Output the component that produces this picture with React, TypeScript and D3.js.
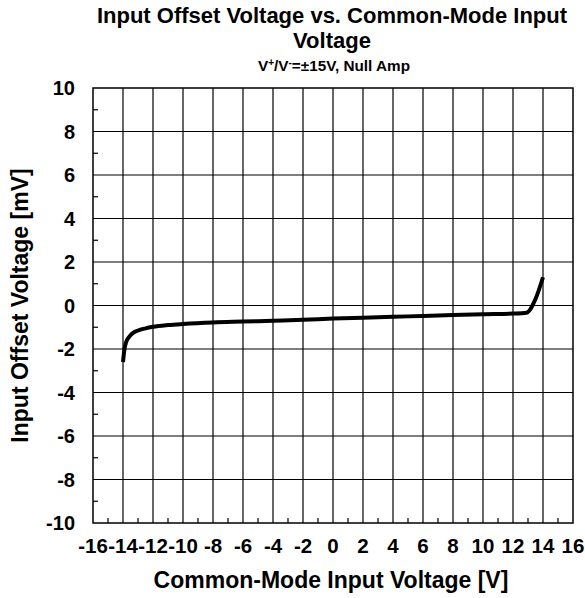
import React from "react";
import * as d3 from "d3";

const W = 585;
const H = 598;
const M = { left: 93, right: 12, top: 88, bottom: 75 };

const xTicks = [-16, -14, -12, -10, -8, -6, -4, -2, 0, 2, 4, 6, 8, 10, 12, 14, 16];
const yTicks = [-10, -8, -6, -4, -2, 0, 2, 4, 6, 8, 10];

// common-mode input voltage [V]
const vcm = [-14, -13.9, -13.8, -13.6, -13.4, -13, -12.5, -12, -11, -10, -8, -6, -4, -2, 0, 2, 4, 6, 8, 10, 12, 12.9, 13.5, 14];
// input offset voltage [mV]
const vos = [-2.6, -2.0, -1.7, -1.45, -1.3, -1.15, -1.05, -0.98, -0.9, -0.85, -0.78, -0.74, -0.7, -0.66, -0.6, -0.56, -0.52, -0.48, -0.44, -0.4, -0.37, -0.33, 0.3, 1.3];

const FONT = "'Liberation Sans', Arial, sans-serif";

export default function App() {
  const x = d3.scaleLinear().domain([-16, 16]).range([M.left, W - M.right]);
  const y = d3.scaleLinear().domain([-10, 10]).range([H - M.bottom, M.top]);

  const pts: [number, number][] = vcm.map((v, i) => [v, vos[i]]);
  const line = d3
    .line<[number, number]>()
    .x((d) => x(d[0]))
    .y((d) => y(d[1]))
    .curve(d3.curveMonotoneX);

  const xMinor = d3.range(-15, 16, 2);
  const yMinor = d3.range(-9, 10, 2);

  return (
    <svg width={W} height={H} style={{ position: "absolute", left: 0, top: 0 }} fontFamily={FONT} fontWeight="bold">
      <rect width={W} height={H} fill="white" />
      <text x={332} y={22.5} textAnchor="middle" fontSize={22}>
        Input Offset Voltage vs. Common-Mode Input
      </text>
      <text x={332} y={47.5} textAnchor="middle" fontSize={22}>
        Voltage
      </text>
      <text x={334} y={71} textAnchor="middle" fontSize={15.3}>
        V<tspan dy={-5} fontSize={10}>+</tspan>
        <tspan dy={5}>/V</tspan>
        <tspan dy={-5} fontSize={10}>-</tspan>
        <tspan dy={5}>=±15V, Null Amp</tspan>
      </text>

      {/* grid */}
      {xTicks.slice(1, -1).map((t) => (
        <line key={"gx" + t} x1={x(t)} x2={x(t)} y1={y(-10)} y2={y(10)} stroke="#000" strokeWidth={1.2} />
      ))}
      {yTicks.slice(1, -1).map((t) => (
        <line key={"gy" + t} x1={x(-16)} x2={x(16)} y1={y(t)} y2={y(t)} stroke="#000" strokeWidth={1.2} />
      ))}
      {xMinor.map((t) => (
        <line key={"mx" + t} x1={x(t)} x2={x(t)} y1={y(-10)} y2={y(-10) - 5} stroke="#000" strokeWidth={1.2} />
      ))}
      {yMinor.map((t) => (
        <line key={"my" + t} x1={x(-16)} x2={x(-16) + 5} y1={y(t)} y2={y(t)} stroke="#000" strokeWidth={1.2} />
      ))}
      <rect x={x(-16)} y={y(10)} width={x(16) - x(-16)} height={y(-10) - y(10)} fill="none" stroke="#000" strokeWidth={1.5} />

      {/* tick labels */}
      {yTicks.map((t) => (
        <text key={"ly" + t} x={75} y={y(t)} dy="0.36em" textAnchor="end" fontSize={20}>
          {t}
        </text>
      ))}
      {xTicks.map((t) => (
        <text key={"lx" + t} x={x(t)} y={553} textAnchor="middle" fontSize={20.5}>
          {t}
        </text>
      ))}

      <text x={331} y={588} textAnchor="middle" fontSize={23}>
        Common-Mode Input Voltage [V]
      </text>
      <text transform={`translate(28, ${(y(10) + y(-10)) / 2}) rotate(-90)`} textAnchor="middle" fontSize={23}>
        Input Offset Voltage [mV]
      </text>

      <path d={line(pts) ?? ""} fill="none" stroke="#000" strokeWidth={4} strokeLinejoin="round" />
    </svg>
  );
}
